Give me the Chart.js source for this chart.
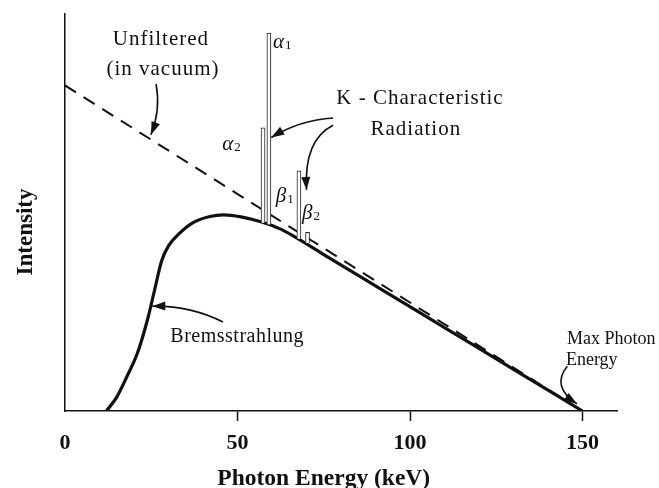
<!DOCTYPE html>
<html>
<head>
<meta charset="utf-8">
<script src="https://cdn.jsdelivr.net/npm/chart.js@4.4.1/dist/chart.umd.min.js"></script>
<style>
  html, body { margin: 0; padding: 0; background: #fff; }
</style>
</head>
<body>
<canvas id="spectrum" width="659" height="488"></canvas>
<script>
// X-ray tube spectrum, 150 kVp

const xTicks = [0, 50, 100, 150];

// unfiltered (in vacuum) spectrum - straight line down to max energy
const unfilteredEnergy = [0, 150];
const unfilteredIntensity = [82, 0];

// bremsstrahlung after filtration
const bremsEnergy = [12, 15, 18, 21, 24, 26, 28, 30, 33, 37, 42, 46, 51, 57, 62, 66, 75, 90, 110, 130, 150];
const bremsIntensity = [0, 3.5, 8.8, 14.6, 23.3, 30.6, 37.8, 41.6, 44.6, 47.4, 49.0, 49.4, 48.9, 47.6, 46.0, 44.2, 39.4, 31.5, 21.0, 10.5, 0];

// K characteristic lines
const lineNames = ['α2', 'α1', 'β1', 'β2'];
const lineEnergy = [57.4, 59.1, 67.8, 70.3];
const lineBase = [47.4, 47.0, 43.4, 42.3];
const lineTop = [71.3, 95.2, 60.5, 45.0];

const SERIF = "'Liberation Serif', 'DejaVu Serif', serif";

const toPoints = (xs, ys) => xs.map((v, i) => ({ x: v, y: ys[i] }));

// text labels and arrows, placed in data units
const annotate = {
	id: 'annotate',
	afterDatasetsDraw(chart) {
		const { ctx, scales: { x, y } } = chart;
		const px = v => x.getPixelForValue(v);
		const py = v => y.getPixelForValue(v);

		const text = (str, xv, yv, size, align, opts = {}) => {
			ctx.font = `${opts.style || ''} ${opts.weight || 'normal'} ${size}px ${SERIF}`;
			ctx.letterSpacing = opts.spacing || '0px';
			ctx.textAlign = align;
			ctx.textBaseline = 'middle';
			ctx.save();
			ctx.translate(px(xv), py(yv));
			if (opts.rotate) ctx.rotate(opts.rotate);
			ctx.fillText(str, 0, 0);
			ctx.restore();
		};

		const greek = (sym, sub, xv, yv) => {
			const x0 = px(xv), y0 = py(yv);
			ctx.letterSpacing = '0px';
			ctx.textAlign = 'left';
			ctx.textBaseline = 'alphabetic';
			ctx.font = `italic 21px ${SERIF}`;
			ctx.fillText(sym, x0, y0 + 7);
			const w = ctx.measureText(sym).width;
			ctx.font = `13px ${SERIF}`;
			ctx.fillText(sub, x0 + w + 1, y0 + 8);
		};

		const arrow = (sx, sy, cx, cy, ex, ey) => {
			const a = [px(sx), py(sy)], c = [px(cx), py(cy)], e = [px(ex), py(ey)];
			ctx.lineWidth = 1.6;
			ctx.beginPath();
			ctx.moveTo(a[0], a[1]);
			ctx.quadraticCurveTo(c[0], c[1], e[0], e[1]);
			ctx.stroke();
			const ang = Math.atan2(e[1] - c[1], e[0] - c[0]);
			const len = 13, half = 4.5;
			ctx.beginPath();
			ctx.moveTo(e[0], e[1]);
			ctx.lineTo(e[0] - len * Math.cos(ang) + half * Math.sin(ang), e[1] - len * Math.sin(ang) - half * Math.cos(ang));
			ctx.lineTo(e[0] - len * Math.cos(ang) - half * Math.sin(ang), e[1] - len * Math.sin(ang) + half * Math.cos(ang));
			ctx.closePath();
			ctx.fill();
		};

		ctx.save();
		ctx.fillStyle = '#111';
		ctx.strokeStyle = '#111';

		text('Unfiltered', 27.8, 93.5, 21, 'center', { spacing: '1px' });
		text('(in vacuum)', 28.4, 85.9, 21, 'center', { spacing: '1px' });
		text('K - Characteristic', 102.9, 78.8, 21, 'center', { spacing: '1px' });
		text('Radiation', 101.7, 70.8, 21, 'center', { spacing: '1px' });
		text('Bremsstrahlung', 49.9, 18.6, 20, 'center', { spacing: '0.5px' });
		text('Max Photon', 158.3, 18.1, 18, 'center');
		text('Energy', 145.2, 12.8, 18, 'left');

		greek('α', '1', 60.3, 93.3);
		greek('α', '2', 45.6, 67.4);
		greek('β', '1', 61.1, 54.3);
		greek('β', '2', 68.7, 50.2);

		arrow(26.4, 82.4, 27.8, 75.8, 24.9, 69.6);
		arrow(77.7, 73.8, 68.1, 73.3, 59.8, 68.9);
		arrow(77.7, 72.0, 69.2, 68.3, 70.0, 55.7);
		arrow(45.8, 22.4, 36.2, 26.6, 25.3, 26.4);
		arrow(145.6, 11.3, 140.8, 6.2, 148.4, 1.8);

		// axis titles (both sit off-centre in the original)
		text('Photon Energy (keV)', 75, -17.1, 23.5, 'center', { weight: 'bold' });
		text('Intensity', -11.3, 45.1, 23, 'center', { weight: 'bold', rotate: -Math.PI / 2 });
		ctx.restore();
	}
};

new Chart(document.getElementById('spectrum'), {
	type: 'line',
	data: {
		datasets: [
			{
				label: 'Unfiltered (in vacuum)',
				data: toPoints(unfilteredEnergy, unfilteredIntensity),
				borderColor: '#111',
				borderWidth: 2,
				borderDash: [13, 9],
				pointRadius: 0,
				order: 3
			},
			{
				label: 'Bremsstrahlung',
				data: toPoints(bremsEnergy, bremsIntensity),
				borderColor: '#111',
				borderWidth: 3.2,
				cubicInterpolationMode: 'monotone',
				pointRadius: 0,
				order: 2
			},
			{
				type: 'bar',
				label: 'K - Characteristic Radiation',
				data: lineEnergy.map((e, i) => ({ x: e, y: [lineBase[i], lineTop[i]] })),
				backgroundColor: '#fff',
				borderColor: '#222',
				borderWidth: 1,
				barThickness: 4,
				order: 1
			}
		]
	},
	options: {
		responsive: false,
		animation: false,
		events: [],
		layout: { padding: { top: 14, right: 42, left: 0, bottom: 0 } },
		plugins: {
			legend: { display: false },
			tooltip: { enabled: false }
		},
		scales: {
			x: {
				type: 'linear',
				min: 0,
				max: 160,
				offset: false,
				afterBuildTicks: s => { s.ticks = xTicks.map(v => ({ value: v })); },
				afterFit: s => { s.height = 77; },
				border: { color: '#111', width: 1.5 },
				grid: {
					offset: false,
					drawOnChartArea: false,
					tickLength: 10,
					tickWidth: 1.5,
					tickColor: c => (c.tick && c.tick.value === 0 ? 'rgba(0,0,0,0)' : '#111')
				},
				ticks: {
					color: '#111',
					padding: 9,
					maxRotation: 0,
					font: { family: SERIF, size: 22, weight: 'bold' }
				}
			},
			y: {
				min: 0,
				max: 100,
				afterFit: s => { s.width = 65; },
				border: { color: '#111', width: 1.5 },
				grid: { display: false },
				ticks: { display: false }
			}
		}
	},
	plugins: [annotate]
});
</script>
</body>
</html>
